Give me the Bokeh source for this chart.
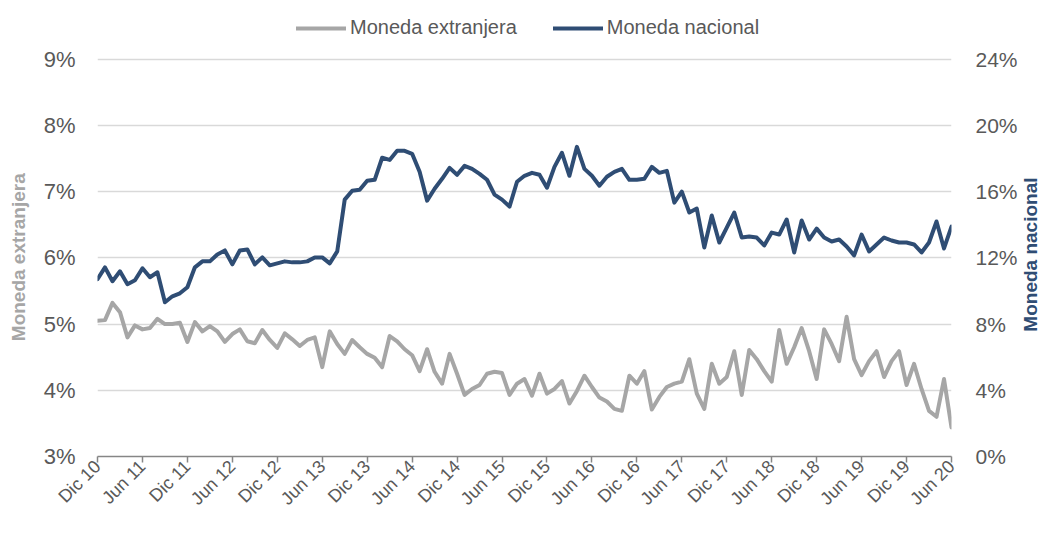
import math
from bokeh.plotting import figure
from bokeh.layouts import row
from bokeh.models import (Range1d, LinearAxis, FixedTicker, PrintfTickFormatter,
                          Legend, LegendItem, ColumnDataSource)
from bokeh.core.properties import value
from bokeh.embed import file_html
from bokeh.resources import INLINE

# ---- data (monthly, Dic 2010 .. Jun 2020) ----
tick_labels = ["Dic 10", "Jun 11", "Dic 11", "Jun 12", "Dic 12", "Jun 13", "Dic 13",
               "Jun 14", "Dic 14", "Jun 15", "Dic 15", "Jun 16", "Dic 16", "Jun 17",
               "Dic 17", "Jun 18", "Dic 18", "Jun 19", "Dic 19", "Jun 20"]

moneda_extranjera = [
    5.05, 5.06, 5.32, 5.18, 4.80, 4.98, 4.92, 4.94, 5.08, 5.00,
    5.00, 5.02, 4.73, 5.03, 4.89, 4.97, 4.89, 4.73, 4.85, 4.92,
    4.74, 4.71, 4.91, 4.76, 4.64, 4.86, 4.77, 4.67, 4.76, 4.80,
    4.35, 4.89, 4.70, 4.55, 4.76, 4.65, 4.55, 4.49, 4.35, 4.82,
    4.74, 4.62, 4.53, 4.29, 4.62, 4.28, 4.10, 4.55, 4.25, 3.93,
    4.02, 4.08, 4.25, 4.28, 4.26, 3.93, 4.10, 4.17, 3.92, 4.25,
    3.95, 4.02, 4.14, 3.80, 3.99, 4.22, 4.05, 3.89, 3.83, 3.72,
    3.69, 4.22, 4.10, 4.29, 3.71, 3.90, 4.05, 4.10, 4.13, 4.47,
    3.95, 3.72, 4.40, 4.10, 4.20, 4.59, 3.93, 4.61, 4.47, 4.29,
    4.13, 4.91, 4.40, 4.65, 4.94, 4.59, 4.17, 4.92, 4.70, 4.44,
    5.11, 4.47, 4.23, 4.44, 4.59, 4.20, 4.44, 4.59, 4.08, 4.40,
    4.02, 3.69, 3.60, 4.17, 3.44]

moneda_nacional = [
    10.71, 11.43, 10.59, 11.19, 10.41, 10.65, 11.37, 10.83, 11.13, 9.32,
    9.68, 9.86, 10.23, 11.43, 11.79, 11.79, 12.21, 12.45, 11.61, 12.45,
    12.51, 11.61, 12.03, 11.55, 11.67, 11.79, 11.73, 11.73, 11.79, 12.03,
    12.03, 11.67, 12.39, 15.52, 16.06, 16.12, 16.66, 16.72, 18.05, 17.92,
    18.47, 18.47, 18.29, 17.20, 15.46, 16.18, 16.78, 17.44, 17.02, 17.56,
    17.38, 17.08, 16.72, 15.82, 15.52, 15.10, 16.60, 16.96, 17.14, 17.02,
    16.24, 17.50, 18.35, 16.96, 18.71, 17.38, 16.96, 16.36, 16.90, 17.20,
    17.38, 16.72, 16.72, 16.78, 17.50, 17.14, 17.26, 15.34, 16.00, 14.74,
    14.98, 12.63, 14.56, 12.93, 13.83, 14.74, 13.23, 13.29, 13.23, 12.75,
    13.53, 13.41, 14.32, 12.33, 14.26, 13.11, 13.77, 13.23, 12.99, 13.11,
    12.69, 12.15, 13.41, 12.39, 12.81, 13.23, 13.05, 12.93, 12.93, 12.81,
    12.33, 12.93, 14.20, 12.57, 13.89]

left_ticks = [3, 4, 5, 6, 7, 8, 9]
right_ticks = [0, 4, 8, 12, 16, 20, 24]

left_title = "Moneda extranjera"
right_title = "Moneda nacional"

month_idx = list(range(len(moneda_nacional)))
tick_pos = [i * 6 for i in range(len(tick_labels))]

GRAY = "#A6A6A6"
BLUE = "#2F4D74"
TXT = "#595959"
FONT = "Liberation Sans"

# geometry: plot area 3%..9% spans 399 px; extra headroom above it holds the legend
W, H = 1020, 518
TITLE_W = 20
TOP, BOTTOM, LEFT, RIGHT = 10, 60, 97, 68
GRID_TOP = 59                      # pixel row of the 9% / 24% gridline
px_per_unit_left = (H - BOTTOM - GRID_TOP) / (left_ticks[-1] - left_ticks[0])
head = (GRID_TOP - TOP) / px_per_unit_left       # headroom in left-axis units
left_max = left_ticks[-1] + head
right_max = right_ticks[-1] + head * (right_ticks[-1] - right_ticks[0]) / (left_ticks[-1] - left_ticks[0])

src = ColumnDataSource(dict(x=month_idx, fx=moneda_extranjera, mn=moneda_nacional))

p = figure(width=W, height=H, output_backend="svg", toolbar_location=None,
           x_range=Range1d(0, month_idx[-1]), y_range=Range1d(left_ticks[0], left_max),
           min_border_left=LEFT, min_border_right=RIGHT, min_border_top=TOP,
           min_border_bottom=BOTTOM)
p.extra_y_ranges = {"right": Range1d(right_ticks[0], right_max)}
p.outline_line_color = None
p.background_fill_color = "white"
p.border_fill_color = "white"

# grid
p.xgrid.grid_line_color = None
p.ygrid.grid_line_color = "#D9D9D9"
p.ygrid.grid_line_width = 1.5
p.ygrid.ticker = FixedTicker(ticks=left_ticks)

# x axis
xa = p.xaxis[0]
xa.ticker = FixedTicker(ticks=tick_pos)
xa.major_label_overrides = {pos: lab for pos, lab in zip(tick_pos, tick_labels)}
xa.major_label_orientation = math.pi / 4
xa.axis_line_color = "#868686"
xa.axis_line_width = 1.5
xa.major_tick_line_color = "#868686"
xa.major_tick_line_width = 1.5
xa.major_tick_out = 6
xa.major_tick_in = 0
xa.minor_tick_line_color = None
xa.minor_tick_out = 0
xa.minor_tick_in = 0
xa.major_label_text_font = FONT
xa.major_label_text_font_size = "18px"
xa.major_label_text_color = TXT
xa.major_label_standoff = 1

NBSP = "\u00a0"

# left axis
ya = p.yaxis[0]
ya.ticker = FixedTicker(ticks=left_ticks)
ya.formatter = PrintfTickFormatter(format="%d%%")
ya.axis_line_color = None
ya.major_tick_line_color = None
ya.minor_tick_line_color = None
ya.major_tick_out = 0
ya.major_tick_in = 0
ya.minor_tick_out = 0
ya.minor_tick_in = 0
ya.major_label_text_font = FONT
ya.major_label_text_font_size = "22px"
ya.major_label_text_color = TXT
ya.major_label_standoff = 22
ya.axis_label = left_title + NBSP * 9
ya.axis_label_text_font = FONT
ya.axis_label_text_font_size = "19px"
ya.axis_label_text_font_style = "bold"
ya.axis_label_text_color = GRAY
ya.axis_label_standoff = 12

# right axis
ra = LinearAxis(y_range_name="right")
ra.ticker = FixedTicker(ticks=right_ticks)
ra.formatter = PrintfTickFormatter(format="%d%%")
ra.axis_line_color = None
ra.major_tick_line_color = None
ra.minor_tick_line_color = None
ra.major_tick_out = 0
ra.major_tick_in = 0
ra.minor_tick_out = 0
ra.minor_tick_in = 0
ra.major_label_text_font = FONT
ra.major_label_text_font_size = "21px"
ra.major_label_text_color = TXT
ra.major_label_standoff = 24
p.add_layout(ra, "right")

# lines
r_fx = p.line("x", "fx", source=src, line_color=GRAY, line_width=4,
              line_join="round", line_cap="round")
r_mn = p.line("x", "mn", source=src, line_color=BLUE, line_width=4,
              line_join="round", line_cap="round", y_range_name="right")

# legend (inside the headroom of the plot area, above the 9% gridline)
legend = Legend(items=[LegendItem(label="Moneda extranjera", renderers=[r_fx]),
                       LegendItem(label="Moneda nacional", renderers=[r_mn])],
                orientation="horizontal", location=(199, 417),
                padding=0, margin=0, spacing=36, label_standoff=4,
                glyph_width=50, glyph_height=20, label_height=20,
                border_line_color=None, background_fill_alpha=0,
                label_text_font=FONT, label_text_font_size="20px",
                label_text_color=TXT)
p.add_layout(legend, "center")

# narrow strip on the right carrying the secondary-axis title (reads bottom-to-top)
t = figure(width=TITLE_W, height=H, output_backend="svg", toolbar_location=None,
           x_range=Range1d(0, 1), y_range=Range1d(right_ticks[0], right_max),
           min_border_left=0, min_border_right=0, min_border_top=TOP,
           min_border_bottom=BOTTOM, x_axis_location=None, y_axis_location=None)
t.outline_line_color = None
t.xgrid.grid_line_color = None
t.ygrid.grid_line_color = None
t.background_fill_color = "white"
t.border_fill_color = "white"
t.text(x=[0.5], y=[(right_ticks[0] + right_ticks[-1]) / 2 + 0.2], text=[right_title],
       angle=math.pi / 2, text_align="center", text_baseline="middle",
       text_font=value(FONT), text_font_size="19px", text_font_style="bold",
       text_color=BLUE)

layout = row(p, t, spacing=0)
open("out.html", "w").write(file_html(layout, INLINE))
